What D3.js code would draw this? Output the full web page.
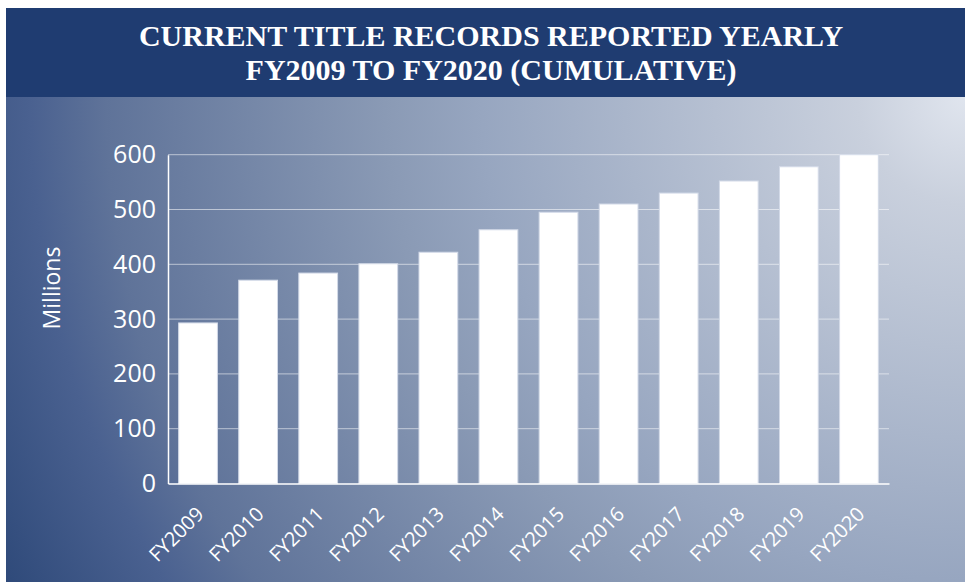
<!DOCTYPE html>
<html>
<head>
<meta charset="utf-8">
<script src="https://cdn.jsdelivr.net/npm/d3@7"></script>
<style>
  html, body { margin: 0; padding: 0; background: #ffffff; }
  svg { display: block; }
</style>
</head>
<body>
<svg id="chart" width="965" height="583"></svg>
<script>
const categories = ["FY2009","FY2010","FY2011","FY2012","FY2013","FY2014","FY2015","FY2016","FY2017","FY2018","FY2019","FY2020"];
const values = [293, 371, 384, 401, 422, 463, 495, 510, 530, 552, 578, 600];
const yTicks = [0, 100, 200, 300, 400, 500, 600];
const titleLines = ["CURRENT TITLE RECORDS REPORTED YEARLY", "FY2009 TO FY2020 (CUMULATIVE)"];
const yAxisTitle = "Millions";

const svg = d3.select("#chart");
const W = 965, H = 583;

const defs = svg.append("defs");
const grad = defs.append("radialGradient")
  .attr("id", "bg")
  .attr("gradientUnits", "userSpaceOnUse")
  .attr("cx", 965).attr("cy", 97).attr("r", 1074);
[[0, "#e0e5ee"], [0.1, "#c9d0dd"], [0.45, "#97a6c0"], [0.54, "#8a9ab5"], [0.8, "#5f7399"], [0.87, "#4a6190"], [1, "#2f4a7a"]]
  .forEach(([o, c]) => grad.append("stop").attr("offset", o).attr("stop-color", c));

// background panel
svg.append("rect").attr("x", 6).attr("y", 96).attr("width", W - 6).attr("height", 486)
  .attr("fill", "url(#bg)");
// title banner
svg.append("rect").attr("x", 6).attr("y", 8).attr("width", W - 6).attr("height", 89)
  .attr("fill", "#1f3c71");

svg.selectAll("text.title").data(titleLines).enter().append("text")
  .attr("class", "title")
  .attr("x", 491)
  .attr("y", (d, i) => 46 + i * 34)
  .attr("text-anchor", "middle")
  .attr("fill", "#ffffff")
  .style("font-family", "'Liberation Serif', serif")
  .style("font-weight", "bold")
  .style("font-size", "30px")
  .text(d => d);

const plot = { left: 168, right: 889, top: 154.7, bottom: 483.5 };

const x = d3.scaleBand().domain(categories)
  .range([plot.left, plot.right])
  .paddingInner(0.355).paddingOuter(0.1775);
const y = d3.scaleLinear().domain([0, 600]).range([plot.bottom, plot.top]);

// gridlines
svg.append("g").selectAll("line").data(yTicks.filter(t => t > 0)).enter().append("line")
  .attr("x1", plot.left).attr("x2", plot.right)
  .attr("y1", d => y(d)).attr("y2", d => y(d))
  .attr("stroke", "rgba(255,255,255,0.55)").attr("stroke-width", 1);

// bars
svg.append("g").selectAll("rect").data(values).enter().append("rect")
  .attr("x", (d, i) => x(categories[i]))
  .attr("y", d => y(d))
  .attr("width", x.bandwidth())
  .attr("height", d => y(0) - y(d))
  .attr("fill", "#ffffff")
  .attr("stroke", "#d3dae8").attr("stroke-width", 1);

// y axis
const yAxis = svg.append("g").attr("transform", `translate(${plot.left},0)`)
  .call(d3.axisLeft(y).tickValues(yTicks).tickSize(0).tickPadding(12));
yAxis.select(".domain").attr("stroke", "#ffffff").attr("stroke-width", 1.5);
yAxis.selectAll("text")
  .attr("fill", "#ffffff")
  .style("font-family", "'Open Sans', sans-serif")
  .style("font-size", "25px");

// x axis
const xAxis = svg.append("g").attr("transform", `translate(0,${plot.bottom})`)
  .call(d3.axisBottom(x).tickSize(0));
xAxis.select(".domain").attr("stroke", "#ffffff").attr("stroke-width", 1.5);
xAxis.selectAll("text")
  .attr("x", 0).attr("y", 0).attr("dy", 0)
  .attr("text-anchor", "end")
  .attr("transform", "translate(7,32) rotate(-45)")
  .attr("fill", "#ffffff")
  .style("font-family", "'Open Sans', sans-serif")
  .style("font-size", "20px");

// y axis title
svg.append("text")
  .attr("transform", "translate(60,288) rotate(-90)")
  .attr("text-anchor", "middle")
  .attr("fill", "#ffffff")
  .style("font-family", "'Open Sans', sans-serif")
  .style("font-size", "23px")
  .text(yAxisTitle);
</script>
</body>
</html>
